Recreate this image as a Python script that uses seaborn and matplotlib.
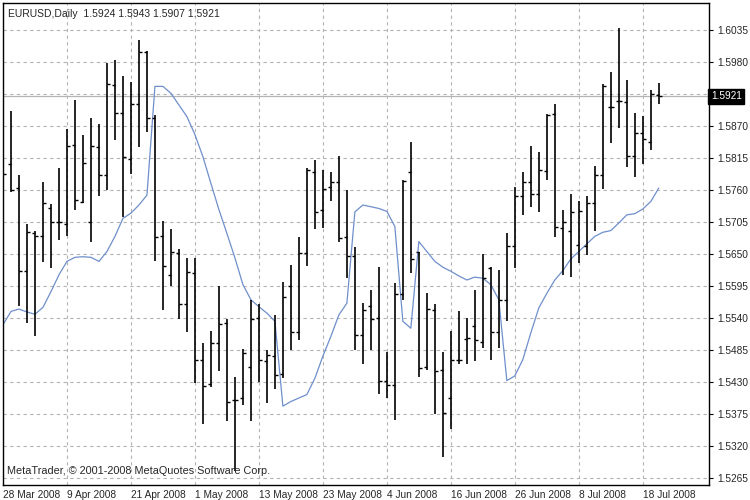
import numpy as np
import pandas as pd
import seaborn as sns
import matplotlib.pyplot as plt

# Daily EURUSD bars, 28 Mar 2008 .. 22 Jul 2008
opens = [1.5794, 1.5805, 1.5763, 1.5621, 1.5686, 1.5680, 1.5728, 1.5704, 1.5701, 1.5837,
         1.5739, 1.5704, 1.5833, 1.5785, 1.5940, 1.5892, 1.5813, 1.5908, 1.5997, 1.5883,
         1.5680, 1.5614, 1.5651, 1.5564, 1.5617, 1.5467, 1.5426, 1.5497, 1.5531, 1.5398,
         1.5402, 1.5455, 1.5540, 1.5465, 1.5475, 1.5443, 1.5595, 1.5516, 1.5651, 1.5790,
         1.5726, 1.5765, 1.5773, 1.5679, 1.5647, 1.5511, 1.5561, 1.5539, 1.5432, 1.5425,
         1.5581, 1.5790, 1.5654, 1.5455, 1.5554, 1.5451, 1.5402, 1.5467, 1.5504, 1.5526,
         1.5499, 1.5625, 1.5515, 1.5570, 1.5664, 1.5750, 1.5774, 1.5753, 1.5792, 1.5890,
         1.5694, 1.5690, 1.5665, 1.5664, 1.5738, 1.5785, 1.5902, 1.5912, 1.5911, 1.5818,
         1.5857, 1.5842, 1.5924]
highs = [1.5837, 1.5896, 1.5786, 1.5702, 1.5689, 1.5773, 1.5736, 1.5798, 1.5865, 1.5914,
         1.5855, 1.5884, 1.5874, 1.5979, 1.5983, 1.5956, 1.5946, 1.6018, 1.5999, 1.5889,
         1.5707, 1.5692, 1.5658, 1.5643, 1.5643, 1.5496, 1.5517, 1.5594, 1.5538, 1.5439,
         1.5486, 1.5570, 1.5564, 1.5485, 1.5545, 1.5601, 1.5631, 1.5679, 1.5797, 1.5812,
         1.5794, 1.5791, 1.5818, 1.5760, 1.5661, 1.5565, 1.5588, 1.5627, 1.5482, 1.5600,
         1.5777, 1.5842, 1.5654, 1.5582, 1.5564, 1.5482, 1.5518, 1.5551, 1.5539, 1.5587,
         1.5650, 1.5628, 1.5623, 1.5686, 1.5765, 1.5791, 1.5836, 1.5825, 1.5891, 1.5908,
         1.5725, 1.5753, 1.5740, 1.5749, 1.5801, 1.5942, 1.5962, 1.6038, 1.5949, 1.5892,
         1.5887, 1.5932, 1.5943]
lows = [1.5740, 1.5757, 1.5561, 1.5531, 1.5508, 1.5636, 1.5625, 1.5673, 1.5681, 1.5725,
        1.5737, 1.5670, 1.5750, 1.5759, 1.5846, 1.5713, 1.5787, 1.5833, 1.5859, 1.5637,
        1.5553, 1.5594, 1.5538, 1.5515, 1.5428, 1.5358, 1.5421, 1.5449, 1.5363, 1.5276,
        1.5390, 1.5363, 1.5429, 1.5394, 1.5417, 1.5436, 1.5485, 1.5501, 1.5629, 1.5692,
        1.5695, 1.5740, 1.5670, 1.5608, 1.5484, 1.5461, 1.5484, 1.5409, 1.5402, 1.5365,
        1.5571, 1.5617, 1.5438, 1.5451, 1.5375, 1.5300, 1.5348, 1.5461, 1.5461, 1.5465,
        1.5488, 1.5467, 1.5488, 1.5535, 1.5625, 1.5716, 1.5730, 1.5722, 1.5777, 1.5679,
        1.5614, 1.5610, 1.5634, 1.5648, 1.5690, 1.5761, 1.5840, 1.5866, 1.5799, 1.5782,
        1.5805, 1.5828, 1.5907]
closes = [1.5788, 1.5760, 1.5621, 1.5687, 1.5680, 1.5738, 1.5704, 1.5704, 1.5836, 1.5742,
          1.5806, 1.5835, 1.5785, 1.5942, 1.5892, 1.5816, 1.5908, 1.5997, 1.5883, 1.5679,
          1.5629, 1.5654, 1.5564, 1.5618, 1.5467, 1.5423, 1.5497, 1.5530, 1.5395, 1.5399,
          1.5480, 1.5538, 1.5467, 1.5476, 1.5442, 1.5575, 1.5516, 1.5652, 1.5794, 1.5722,
          1.5761, 1.5773, 1.5677, 1.5647, 1.5511, 1.5554, 1.5538, 1.5432, 1.5425, 1.5581,
          1.5776, 1.5641, 1.5453, 1.5555, 1.5449, 1.5377, 1.5467, 1.5468, 1.5505, 1.5501,
          1.5608, 1.5515, 1.5570, 1.5664, 1.5750, 1.5774, 1.5753, 1.5794, 1.5889, 1.5696,
          1.5704, 1.5722, 1.5723, 1.5738, 1.5785, 1.5939, 1.5902, 1.5913, 1.5818, 1.5857,
          1.5848, 1.5925, 1.5921]
indicator = [1.5528, 1.5551, 1.5555, 1.5550, 1.5546, 1.5558, 1.5585, 1.5614, 1.5637, 1.5644,
             1.5645, 1.5644, 1.5637, 1.5654, 1.5680, 1.5711, 1.5720, 1.5734, 1.5751, 1.5938,
             1.5938, 1.5926, 1.5906, 1.5886, 1.5855, 1.5817, 1.5771, 1.5726, 1.5685, 1.5643,
             1.5597, 1.5571, 1.5559, 1.5548, 1.5534, 1.5388, 1.5396, 1.5402, 1.5408, 1.5436,
             1.5474, 1.5508, 1.5545, 1.5565, 1.5722, 1.5734, 1.5731, 1.5728, 1.5723, 1.5697,
             1.5534, 1.5522, 1.5671, 1.5654, 1.5637, 1.5627, 1.5620, 1.5612, 1.5605, 1.5610,
             1.5608, 1.5597, 1.5571, 1.5432, 1.5440, 1.5468, 1.5514, 1.5557, 1.5582, 1.5605,
             1.5621, 1.5641, 1.5654, 1.5667, 1.5680, 1.5687, 1.5690, 1.5703, 1.5717, 1.5719,
             1.5727, 1.5740, 1.5763]

date_labels = ["28 Mar 2008", "9 Apr 2008", "21 Apr 2008", "1 May 2008", "13 May 2008",
               "23 May 2008", "4 Jun 2008", "16 Jun 2008", "26 Jun 2008", "8 Jul 2008",
               "18 Jul 2008"]
price_ticks = [1.5265, 1.5320, 1.5375, 1.5430, 1.5485, 1.5540, 1.5595, 1.5650,
               1.5705, 1.5760, 1.5815, 1.5870, 1.5925, 1.5980, 1.6035]
last_price = 1.5921

df = pd.DataFrame({"bar": np.arange(len(opens)), "open": opens, "high": highs,
                   "low": lows, "close": closes, "ind": indicator})

sns.set_style("white")
plt.rcParams['font.family'] = ['Liberation Sans', 'DejaVu Sans']

fig = plt.figure(figsize=(7.5, 5), dpi=100)
ax = fig.add_axes([0.004, 0.03, 0.941, 0.964])

# grid
for i in range(0, 88, 8):
    ax.axvline(i, color="#b4b4b4", lw=0.8, ls=(0, (3, 3)), zorder=0)
for p in price_ticks:
    ax.axhline(p, color="#b4b4b4", lw=0.8, ls=(0, (3, 3)), zorder=0)
ax.axhline(last_price, color="#b4b4b4", lw=0.9, zorder=0.5)

# OHLC bars
ax.vlines(df["bar"], df["low"], df["high"], color="black", lw=1.2, zorder=3)
ax.hlines(df["open"], df["bar"] - 0.38, df["bar"], color="black", lw=1.0, zorder=3)
ax.hlines(df["close"], df["bar"], df["bar"] + 0.38, color="black", lw=1.0, zorder=3)

sns.lineplot(data=df, x="bar", y="ind", color="#6f8fcc", lw=0.9, ax=ax, zorder=2)

ax.set_xlim(0, 88.25)
ax.set_ylim(1.52524, 1.60814)
ax.set_xlabel("")
ax.set_ylabel("")

ax.set_xticks(range(0, 88, 8))
ax.set_xticklabels(date_labels, fontsize=7.3, ha="left")
ax.yaxis.tick_right()
ax.set_yticks(price_ticks)
ax.set_yticklabels(["" if abs(p - 1.5925) < 1e-6 else f"{p:.4f}" for p in price_ticks],
                   fontsize=7.3)
ax.tick_params(axis="x", length=3, width=0.8, color="black", pad=0.5, direction="out")
ax.tick_params(axis="y", length=3, width=0.8, color="black", pad=3, direction="out")
for s in ax.spines.values():
    s.set_color("black")
    s.set_linewidth(1)

ax.text(0.6, 1.6062, "EURUSD,Daily  1.5924 1.5943 1.5907 1.5921",
        fontsize=7.5, va="center", ha="left")
ax.text(0.5, 1.5268, "MetaTrader, \u00a9 2001-2008 MetaQuotes Software Corp.",
        fontsize=7.8, va="bottom", ha="left")
ax.text(1.003, last_price, f"{last_price:.4f}", transform=ax.get_yaxis_transform(),
        fontsize=7.3, color="white", va="center", ha="left",
        bbox=dict(boxstyle="square,pad=0.25", fc="black", ec="black"), clip_on=False)

fig.savefig("out.png", dpi=100)
